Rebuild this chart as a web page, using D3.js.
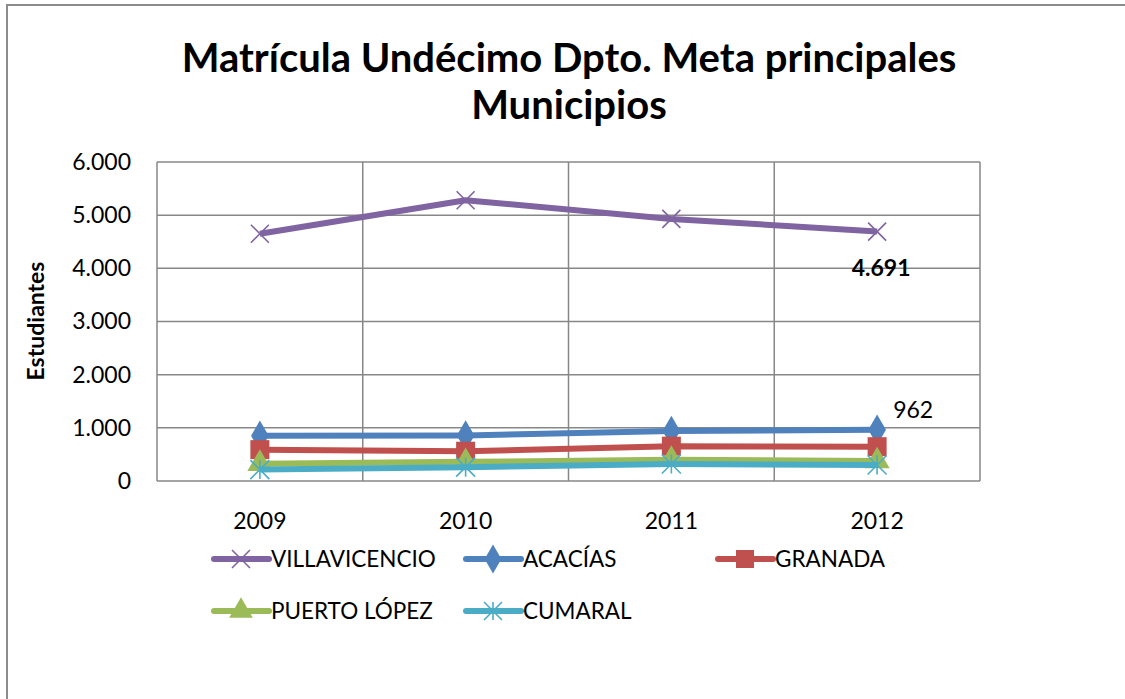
<!DOCTYPE html>
<html>
<head>
<meta charset="utf-8">
<script src="https://cdn.jsdelivr.net/npm/d3@7"></script>
<style>
  body { margin: 0; background: #fff; }
  svg { display: block; font-family: Lato, "Open Sans", sans-serif; }
</style>
</head>
<body>
<svg id="chart" width="1125" height="699"></svg>
<script>
// chart data
const years = ["2009", "2010", "2011", "2012"];
const seriesNames = ["VILLAVICENCIO", "ACACÍAS", "GRANADA", "PUERTO LÓPEZ", "CUMARAL"];
const villavicencio = [4650, 5280, 4930, 4691];
const acacias = [850, 855, 940, 962];
const granada = [590, 560, 655, 645];
const puertoLopez = [325, 360, 400, 375];
const cumaral = [215, 260, 320, 300];
const yTicks = [0, 1000, 2000, 3000, 4000, 5000, 6000];
const titleLines = ["Matrícula Undécimo Dpto. Meta principales", "Municipios"];

const Chart = {
    box: { left: 157, right: 980, top: 162, bottom: 481 },
    colors: ["#8064A2", "#4F81BD", "#C0504D", "#9BBB59", "#4BACC6"],
    markers: ["x", "diamond", "square", "triangle", "star"],

    init() {
        this.svg = d3.select("#chart");
        this.x = d3.scaleBand().domain(years)
            .range([this.box.left, this.box.right]);
        this.y = d3.scaleLinear().domain([0, 6000])
            .range([this.box.bottom, this.box.top]);
        this.series = [villavicencio, acacias, granada, puertoLopez, cumaral]
            .map((values, i) => ({ name: seriesNames[i], values, i }));

        this.drawFrame();
        this.drawTitle();
        this.drawGrid();
        this.drawAxes();
        this.drawLines();
        this.drawLabels();
        this.drawLegend();
    },

    drawFrame() {
        this.svg.append("path")
            .attr("d", "M7,699 L7,5 L1125,5")
            .attr("fill", "none")
            .attr("stroke", "#8c8c8c")
            .attr("stroke-width", 2);
    },

    drawTitle() {
        this.svg.append("g").selectAll("text")
            .data(titleLines)
            .enter().append("text")
            .attr("x", 569)
            .attr("y", (d, i) => 72 + i * 47)
            .attr("text-anchor", "middle")
            .attr("font-size", 40)
            .attr("font-weight", "bold")
            .text(d => d);
    },

    drawGrid() {
        const g = this.svg.append("g").attr("stroke", "#878787").attr("stroke-width", 1.5);
        g.selectAll(".h").data(yTicks).enter().append("line")
            .attr("x1", this.box.left).attr("x2", this.box.right)
            .attr("y1", d => this.y(d)).attr("y2", d => this.y(d));
        const xs = years.map(d => this.x(d)).concat([this.box.right]);
        g.selectAll(".v").data(xs).enter().append("line")
            .attr("x1", d => d).attr("x2", d => d)
            .attr("y1", this.box.top).attr("y2", this.box.bottom);
    },

    drawAxes() {
        const fmt = d => d3.format(",")(d).replace(/,/g, ".");
        const yAxis = d3.axisLeft(this.y).tickValues(yTicks).tickFormat(fmt)
            .tickSize(0).tickPadding(26);
        const ya = this.svg.append("g")
            .attr("transform", `translate(${this.box.left},0)`)
            .call(yAxis);
        ya.select(".domain").remove();
        ya.selectAll("text").attr("font-size", 23).attr("font-family", "Lato").attr("fill", "#000");

        const xAxis = d3.axisBottom(this.x).tickSize(0).tickPadding(32);
        const xa = this.svg.append("g")
            .attr("transform", `translate(0,${this.box.bottom})`)
            .call(xAxis);
        xa.select(".domain").remove();
        xa.selectAll("text").attr("font-size", 23).attr("font-family", "Lato").attr("fill", "#000");

        this.svg.append("text")
            .attr("transform", "translate(44,321) rotate(-90)")
            .attr("text-anchor", "middle")
            .attr("font-size", 23)
            .attr("font-weight", "bold")
            .text("Estudiantes");
    },

    cx(i) {
        return this.x(years[i]) + this.x.bandwidth() / 2;
    },

    marker(sel, kind, color, size) {
        if (kind === "x" || kind === "star") {
            const r = size / 2;
            let d = `M${-r},${-r}L${r},${r}M${-r},${r}L${r},${-r}`;
            if (kind === "star") d += `M0,${-r}L0,${r}`;
            sel.append("path").attr("d", d)
                .attr("stroke", color).attr("stroke-width", 1.6).attr("fill", "none");
        } else {
            const type = { diamond: d3.symbolDiamond, square: d3.symbolSquare, triangle: d3.symbolTriangle }[kind];
            const area = kind === "square" ? size * size : size * size * 0.75;
            sel.append("path").attr("d", d3.symbol(type, area)())
                .attr("fill", color);
        }
    },

    drawLines() {
        const line = d3.line().x((d, i) => this.cx(i)).y(d => this.y(d));
        const order = [1, 2, 3, 4, 0];
        order.forEach(k => {
            const s = this.series[k];
            const color = this.colors[k];
            const g = this.svg.append("g");
            g.append("path")
                .attr("d", line(s.values))
                .attr("fill", "none")
                .attr("stroke", color)
                .attr("stroke-width", 6)
                .attr("stroke-linejoin", "round");
            s.values.forEach((v, i) => {
                const m = g.append("g").attr("transform", `translate(${this.cx(i)},${this.y(v)})`);
                this.marker(m, this.markers[k], color, k === 0 ? 18 : 19);
            });
        });
    },

    drawLabels() {
        const last = years.length - 1;
        this.svg.append("text")
            .attr("x", this.cx(last) + 4)
            .attr("y", this.y(villavicencio[last]) + 44)
            .attr("text-anchor", "middle")
            .attr("font-size", 23)
            .attr("font-weight", "bold")
            .text(d3.format(",")(villavicencio[last]).replace(/,/g, "."));
        this.svg.append("text")
            .attr("x", this.cx(last) + 16)
            .attr("y", this.y(acacias[last]) - 12)
            .attr("font-size", 23)
            .text(acacias[last]);
    },

    drawLegend() {
        const slots = [[214, 559], [466, 559], [718, 559], [214, 611], [466, 611]];
        this.series.forEach((s, k) => {
            const [lx, ly] = slots[k];
            const g = this.svg.append("g").attr("transform", `translate(${lx},${ly})`);
            g.append("line").attr("x1", 0).attr("x2", 55)
                .attr("stroke", this.colors[k]).attr("stroke-width", 6)
                .attr("stroke-linecap", "round");
            const m = g.append("g").attr("transform", "translate(27,0)");
            this.marker(m, this.markers[k], this.colors[k], 18);
            g.append("text").attr("x", 57).attr("y", 8)
                .attr("font-size", 22.5)
                .text(s.name);
        });
    }
};

Chart.init();
</script>
</body>
</html>
